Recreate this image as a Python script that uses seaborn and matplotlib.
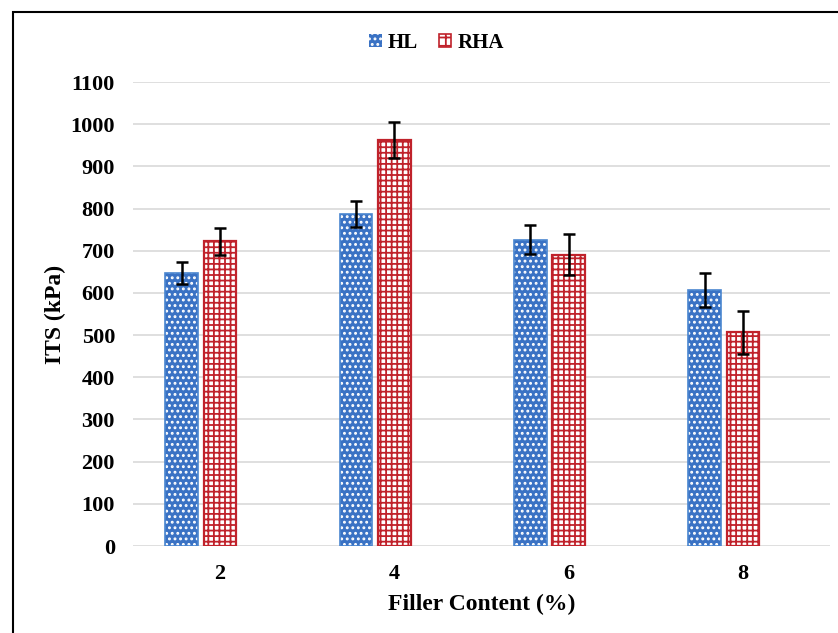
import matplotlib
matplotlib.use("Agg")
import matplotlib.pyplot as plt
import seaborn as sns
import pandas as pd
from matplotlib.patches import Rectangle, Patch

categories = ["2", "4", "6", "8"]
hl_values = [648, 787, 726, 607]
rha_values = [722, 963, 691, 507]
hl_err = [26, 30, 34, 41]
rha_err = [33, 43, 48, 51]
series = ["HL", "RHA"]
yticks = [0, 100, 200, 300, 400, 500, 600, 700, 800, 900, 1000, 1100]

sns.set_theme(style="white")
plt.rcParams["font.family"] = ["Liberation Serif", "DejaVu Serif"]
plt.rcParams["font.weight"] = "bold"
plt.rcParams["text.color"] = "black"
plt.rcParams["xtick.color"] = "black"
plt.rcParams["ytick.color"] = "black"
plt.rcParams["axes.labelcolor"] = "black"
plt.rcParams["hatch.linewidth"] = 1.3

df = pd.DataFrame({
    "Filler": categories * 2,
    "ITS": hl_values + rha_values,
    "Series": ["HL"] * 4 + ["RHA"] * 4,
})

blue = "#3A72C4"
red = "#C0222B"

fig = plt.figure(figsize=(8.38, 6.33), dpi=100)
ax = fig.add_axes([133 / 838, 1 - 546 / 633, (830 - 133) / 838, (546 - 82) / 633])
# third (empty) hue slot reproduces the original's left-shifted bar pairs
sns.barplot(data=df, x="Filler", y="ITS", hue="Series", order=categories,
            hue_order=series + ["_empty"], palette=[blue, "white", "white"],
            width=0.66, gap=0.15, errorbar=None, legend=False, ax=ax, zorder=2)

errs = {"HL": hl_err, "RHA": rha_err}
vals = {"HL": hl_values, "RHA": rha_values}
for name, cont in zip(series, ax.containers):
    xs = []
    for p in cont.patches:
        x, y = p.get_xy()
        w, h = p.get_width(), p.get_height()
        xs.append(x + w / 2)
        if name == "HL":
            p.set_facecolor(blue)
            p.set_edgecolor("white")
            p.set_hatch("...")
            p.set_linewidth(0)
            ax.add_patch(Rectangle((x, y), w, h, fill=False, edgecolor="#4A86D0", lw=1.2, zorder=3))
        else:
            p.set_facecolor("white")
            p.set_edgecolor(red)
            p.set_hatch("+++")
            p.set_linewidth(1.6)
    ax.errorbar(xs, vals[name], yerr=errs[name], fmt="none", ecolor="black",
                elinewidth=1.8, capsize=4, capthick=1.8, zorder=5)

ax.set_ylim(0, 1100)
ax.set_xlim(-0.5, 3.5)
ax.set_yticks(yticks)
ax.set_yticklabels([str(t) for t in yticks])
ax.yaxis.grid(True, color="#D9D9D9", lw=1.2, zorder=0)
ax.set_axisbelow(True)
for s in ax.spines.values():
    s.set_visible(False)
ax.tick_params(axis="both", length=0, labelsize=16)
ax.tick_params(axis="y", pad=13)
ax.tick_params(axis="x", pad=13)
for lab in ax.get_xticklabels() + ax.get_yticklabels():
    lab.set_fontweight("bold")
ax.set_xlabel("Filler Content (%)", fontsize=17, fontweight="bold", labelpad=7)
ax.set_ylabel("ITS (kPa)", fontsize=17, fontweight="bold", labelpad=3)

handles = [Patch(facecolor=blue, edgecolor="white", hatch="...", lw=0),
           Patch(facecolor="white", edgecolor=red, hatch="++", lw=1.2)]
fig.legend(handles, series, loc="center", bbox_to_anchor=(0.521, 1 - 43 / 633),
           ncol=2, frameon=False, prop={"size": 15, "weight": "bold"},
           handlelength=0.6, handleheight=0.6, handletextpad=0.3, columnspacing=1.0)

fig.add_artist(Rectangle((13 / 838, -0.2), 1.5, 1.2 - 12 / 633, transform=fig.transFigure,
                         fill=False, edgecolor="black", lw=1.5, clip_on=False))

fig.savefig("out.png", dpi=100)
